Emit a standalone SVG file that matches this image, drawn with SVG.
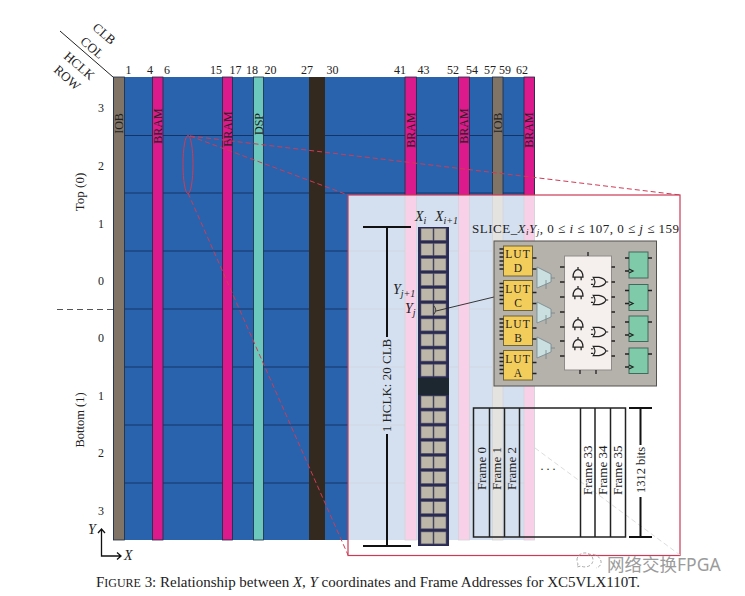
<svg xmlns="http://www.w3.org/2000/svg" width="745" height="596" viewBox="0 0 745 596" font-size="12">
<style>
text{font-family:"Liberation Serif","Times New Roman",serif;fill:#222}
.m{text-anchor:middle}
.i{font-style:italic}
.bl{fill:#2a63ad}
.col{stroke:#1d2b44;stroke-width:.8}
.iob{fill:#7f7466}.bram{fill:#dc1a8c}.dsp{fill:#6cc8bd}.blk{fill:#33291f}
.g{stroke:#143468;stroke-width:1;fill:none}
.red{stroke:#cf3b55;stroke-width:1;fill:none;stroke-dasharray:5 3}
.k{stroke:#111;stroke-width:2;fill:none}
.f{stroke:#222;stroke-width:1.5;fill:none}
.cell{fill:#bdb7aa;stroke:#5e5a66;stroke-width:.6}
.lut{fill:#f3cd5b;stroke:#6f6436;stroke-width:1}
.lt{letter-spacing:1px}
.mux{fill:#c9dfe0;stroke:#75868a;stroke-width:.8}
.ff{fill:#7fcaa8;stroke:#44695c;stroke-width:1}
.pin{stroke:#222;stroke-width:1.3;fill:none}
.gt{stroke:#222;stroke-width:1;fill:#f5f0ee}
</style>
<defs>
<path id="and" transform="scale(1.25)" d="M-4 4 A4 6 0 0 1 4 4 Z M-2.500 4V6.500M2.500 4V6.500M0-2V-4"/>
<path id="or" transform="scale(1.15)" d="M-5-4H0Q5-3 6 0Q5 3 0 4H-5Q-2 0-5-4ZM-5-2H-7M-5 2H-7M6 0H8"/>
<path id="lutpins" d="M-4 3H0M-4 7H0M-4 11H0M-4 15H0M-4 19H0M-4 23H0M29 12H33M29 23H33"/>
<path id="ffpins" d="M-4 6H0M-4 19H0M19 6H23M0 17L4 19L0 21"/>
<path id="muxp" d="M0 0L14 7V15L0 21ZM14 11H18M9 13V22"/>
<g id="cellrow"><rect class="cell" x="421" y="0" width="12" height="12"/><rect class="cell" x="434" y="0" width="12" height="12"/></g>
</defs>

<g id="fpga-grid">
<rect class="bl" x="113" y="77" width="422" height="463"/>
<path class="g" d="M113 135.500H535M113 193H535M113 251H535M113 309H535M113 367H535M113 425H535M113 483H535"/>
<rect class="iob col" x="113.500" y="77" width="11" height="463"/>
<rect class="bram col" x="152.500" y="77" width="10.500" height="463"/>
<rect class="bram col" x="222.500" y="77" width="10" height="463"/>
<rect class="dsp col" x="253.500" y="77" width="10" height="463"/>
<rect class="blk" x="309" y="77" width="16" height="463"/>
<rect class="bram col" x="405" y="77" width="11.500" height="463"/>
<rect class="bram col" x="458.500" y="77" width="11" height="463"/>
<rect class="iob col" x="492.500" y="77" width="10.500" height="463"/>
<rect class="bram col" x="524" y="77" width="10.500" height="463"/>
<text class="m" transform="translate(123 123.500) rotate(-90)">IOB</text>
<text class="m" transform="translate(162 126) rotate(-90)">BRAM</text>
<text class="m" transform="translate(232 129) rotate(-90)">BRAM</text>
<text class="m" transform="translate(263 124) rotate(-90)">DSP</text>
<text class="m" transform="translate(415 130) rotate(-90)">BRAM</text>
<text class="m" transform="translate(468 126) rotate(-90)">BRAM</text>
<text class="m" transform="translate(502 123) rotate(-90)">IOB</text>
<text class="m" transform="translate(533 130) rotate(-90)">BRAM</text>
</g>

<g id="header-labels">
<path d="M60 31L113 77" stroke="#222" stroke-width="1" fill="none"/>
<text class="m" font-size="13" transform="translate(104 34) rotate(41) translate(0 4)">CLB</text>
<text class="m" font-size="13" transform="translate(92 48) rotate(41) translate(0 4)">COL</text>
<text class="m" font-size="13" transform="translate(79 66) rotate(41) translate(0 4)">HCLK</text>
<text class="m" font-size="13" transform="translate(67 78) rotate(41) translate(0 4)">ROW</text>
<text class="m" x="128.500" y="74">1</text><text class="m" x="150" y="74">4</text><text class="m" x="167" y="74">6</text><text class="m" x="216" y="74">15</text><text class="m" x="235.500" y="74">17</text><text class="m" x="252" y="74">18</text><text class="m" x="270.500" y="74">20</text><text class="m" x="307" y="74">27</text><text class="m" x="332.500" y="74">30</text><text class="m" x="400" y="74">41</text><text class="m" x="423.500" y="74">43</text><text class="m" x="453" y="74">52</text><text class="m" x="472" y="74">54</text><text class="m" x="490" y="74">57</text><text class="m" x="505" y="74">59</text><text class="m" x="522" y="74">62</text>
<text class="m" x="101" y="112">3</text><text class="m" x="101" y="170">2</text><text class="m" x="101" y="228">1</text><text class="m" x="101" y="285">0</text><text class="m" x="101" y="342">0</text><text class="m" x="101" y="400">1</text><text class="m" x="101" y="457">2</text><text class="m" x="101" y="515">3</text>
<text class="m" font-size="13" transform="translate(84 192) rotate(-90)">Top (0)</text>
<text class="m" font-size="12.500" transform="translate(84 420) rotate(-90)">Bottom (1)</text>
<path d="M57 309.500H113" stroke="#555" stroke-width="1" stroke-dasharray="6 4" fill="none"/>
</g>

<g id="axes">
<path d="M101.500 529V556H121M98 533L101.500 529L105 533M117 552.500L121 556L117 559.500" fill="none" stroke="#111" stroke-width="1.300"/>
<text class="i" x="88" y="534" font-size="14">Y</text>
<text class="i" x="124" y="560" font-size="14">X</text>
</g>

<g id="connectors">
<ellipse cx="188" cy="164.500" rx="5" ry="29" fill="none" stroke="#cf3b55" stroke-width="1"/>
<path class="red" d="M190 136L680 195M190 136L348 195M188 193L348 555"/>
</g>

<g id="zoom-panel">
<rect x="348" y="195" width="332" height="360.500" fill="#fff" fill-opacity=".8" stroke="#cc3a55" stroke-width="1.200"/>
<path d="M535 448L680 555" stroke="#ddd" stroke-width="1" stroke-dasharray="5 3" fill="none"/>
</g>

<g id="clb-column">
<rect x="418" y="227" width="31" height="319" fill="#2a2b55"/>
<rect x="418" y="378" width="31" height="17" fill="#1d2730"/>
<use href="#cellrow" y="228.300"/><use href="#cellrow" y="243.400"/><use href="#cellrow" y="258.500"/><use href="#cellrow" y="273.600"/><use href="#cellrow" y="288.700"/><use href="#cellrow" y="303.800"/><use href="#cellrow" y="318.900"/><use href="#cellrow" y="334"/><use href="#cellrow" y="349.100"/><use href="#cellrow" y="364.200"/>
<use href="#cellrow" y="396"/><use href="#cellrow" y="411.100"/><use href="#cellrow" y="426.200"/><use href="#cellrow" y="441.300"/><use href="#cellrow" y="456.400"/><use href="#cellrow" y="471.500"/><use href="#cellrow" y="486.600"/><use href="#cellrow" y="501.700"/><use href="#cellrow" y="516.800"/><use href="#cellrow" y="531.900"/>
<path class="k" d="M363 227H411M387 227V337M387 434V546M363 546H411"/>
<text class="m" font-size="13" transform="translate(391 385.500) rotate(-90)">1 HCLK: 20 CLB</text>
<text class="i" x="415" y="221" font-size="14">X<tspan font-size="10" dy="3">i</tspan></text>
<text class="i" x="435" y="221" font-size="14">X<tspan font-size="10" dy="3">i+1</tspan></text>
<text class="i" x="393" y="294" font-size="14">Y<tspan font-size="10" dy="3">j+1</tspan></text>
<text class="i" x="405" y="313" font-size="14">Y<tspan font-size="10" dy="3">j</tspan></text>
<path d="M434 306Q437.500 310 434 314" fill="none" stroke="#222" stroke-width=".8"/>
<path d="M436 311L494 297" stroke="#222" stroke-width=".9" fill="none"/>
</g>

<g id="slice">
<text x="472" y="233" font-size="13" textLength="207" lengthAdjust="spacing">SLICE_<tspan class="i">X<tspan font-size="9" dy="2">i</tspan><tspan dy="-2">Y</tspan><tspan font-size="9" dy="2">j</tspan></tspan><tspan dy="-2">, 0 ≤ </tspan><tspan class="i">i</tspan> ≤ 107, 0 ≤ <tspan class="i">j</tspan> ≤ 159</text>
<rect x="494" y="241" width="162.500" height="145" fill="#b5b1ab" stroke="#55524e" stroke-width="1"/>
<rect class="lut" x="503.500" y="246" width="29" height="30"/><use href="#lutpins" x="503.500" y="246" class="pin"/>
<rect class="lut" x="503.500" y="280.500" width="29" height="30"/><use href="#lutpins" x="503.500" y="280.500" class="pin"/>
<rect class="lut" x="503.500" y="316" width="29" height="29.500"/><use href="#lutpins" x="503.500" y="316" class="pin"/>
<rect class="lut" x="503.500" y="350.500" width="29" height="29.500"/><use href="#lutpins" x="503.500" y="350.500" class="pin"/>
<g font-size="11.500">
<text class="m lt" x="518" y="258">LUT</text><text class="m" x="518" y="272">D</text>
<text class="m lt" x="518" y="292.500">LUT</text><text class="m" x="518" y="306.500">C</text>
<text class="m lt" x="518" y="328">LUT</text><text class="m" x="518" y="342">B</text>
<text class="m lt" x="518" y="362.500">LUT</text><text class="m" x="518" y="376.500">A</text>
</g>
<use href="#muxp" x="537" y="267" class="mux"/><use href="#muxp" x="537" y="302" class="mux"/><use href="#muxp" x="537" y="337" class="mux"/>
<rect x="564.500" y="256" width="47" height="114" fill="#f5f0ee" stroke="#8f8b88" stroke-width="1"/>
<path class="pin" d="M588 252V256M560 267H564.500M560 282H564.500M560 297H564.500M560 312H564.500M560 327H564.500M560 341H564.500M560 356H564.500M611.500 267H615M611.500 282H615M611.500 297H615M611.500 312H615M611.500 327H615M611.500 341H615M611.500 356H615M580 370V374M596 370V374"/>
<use href="#and" x="578" y="272" class="gt"/><use href="#and" x="578" y="291" class="gt"/><use href="#and" x="578" y="322" class="gt"/><use href="#and" x="578" y="342" class="gt"/>
<use href="#or" x="599" y="282" class="gt"/><use href="#or" x="599" y="300" class="gt"/><use href="#or" x="599" y="332" class="gt"/><use href="#or" x="599" y="351" class="gt"/>
<rect class="ff" x="629" y="252" width="19" height="26"/><use href="#ffpins" x="629" y="252" class="pin"/>
<rect class="ff" x="629" y="284.500" width="19" height="26"/><use href="#ffpins" x="629" y="284.500" class="pin"/>
<rect class="ff" x="629" y="316" width="19" height="25.500"/><use href="#ffpins" x="629" y="316" class="pin"/>
<rect class="ff" x="629" y="348" width="19" height="25.500"/><use href="#ffpins" x="629" y="348" class="pin"/>
</g>

<g id="frames">
<rect class="f" x="473.500" y="408" width="152" height="129"/>
<path class="f" d="M489.500 408V537M504.500 408V537M519.500 408V537M580.500 408V537M595 408V537M610.500 408V537"/>
<path class="k" d="M629 408H652M640.500 408V445M640.500 497V537M629 537H652"/>
<text font-size="13" transform="translate(486 490) rotate(-90)">Frame 0</text>
<text font-size="13" transform="translate(501 490) rotate(-90)">Frame 1</text>
<text font-size="13" transform="translate(516 490) rotate(-90)">Frame 2</text>
<text font-size="13" transform="translate(592 495) rotate(-90)">Frame 33</text>
<text font-size="13" transform="translate(607 495) rotate(-90)">Frame 34</text>
<text font-size="13" transform="translate(622 495) rotate(-90)">Frame 35</text>
<text class="m" font-size="12.500" transform="translate(644.500 470) rotate(-90)">1312 bits</text>
<text class="m" x="548" y="470">. . .</text>
</g>

<g id="caption">
<text x="96" y="587" font-size="15" textLength="544" lengthAdjust="spacing"><tspan>F</tspan><tspan font-size="12">IGURE</tspan> 3: Relationship between <tspan class="i">X</tspan>, <tspan class="i">Y</tspan> coordinates and Frame Addresses for XC5VLX110T.</text>
</g>

<g id="watermark">
<path d="M577 560a8 7 0 1 1 4 6l-4 1l1-3q-1-2-1-4M588 555a9 8 0 0 1 12 4a7 6 0 0 1-4 9" fill="none" stroke="#aaa" stroke-width="1" stroke-dasharray="3 2"/>
<text x="607" y="571" font-size="17.500" style="font-family:'Noto Sans CJK SC','Noto Sans',sans-serif;fill:#9b9b9b">网络交换<tspan style="font-family:'Noto Sans',sans-serif">FPGA</tspan></text>
</g>
</svg>
